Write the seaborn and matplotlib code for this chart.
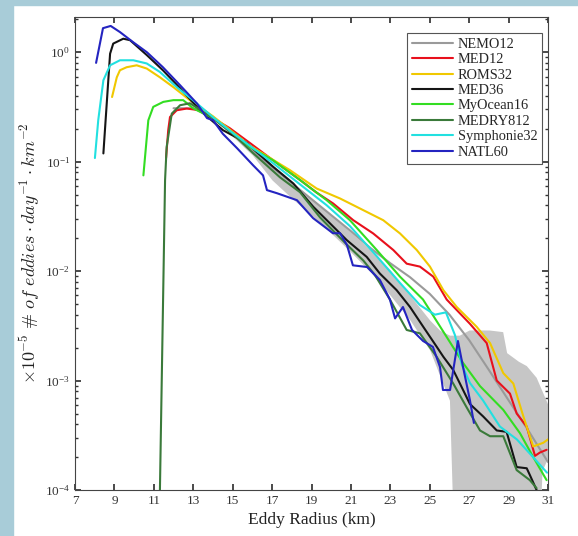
import matplotlib
matplotlib.use("Agg")
import matplotlib.pyplot as plt
from matplotlib.patches import Rectangle
import seaborn as sns

# values (eddy radius in km, density per km^2 per day, x 1e-5)
natl60_x = [8.07, 8.42, 8.81, 9.28, 9.94, 10.65, 11.46, 12.33, 13.19, 13.70, 14.0, 14.5, 15.22,
            16.03, 16.54, 16.74, 17.25, 18.26, 19.08, 20.09, 20.45, 20.80, 21.10, 21.82, 22.47,
            22.98, 23.24, 23.64, 24.10, 24.66, 25.16, 25.52, 25.67, 26.03, 26.43, 26.69, 27.04, 27.24]
natl60_y = [0.80, 1.66, 1.74, 1.53, 1.24, 1.0, 0.73, 0.50, 0.34, 0.25, 0.24, 0.18, 0.133,
            0.093, 0.075, 0.055, 0.0515, 0.0445, 0.0305, 0.0222, 0.0222, 0.0173, 0.0113, 0.0109, 0.0083,
            0.0055, 0.0037, 0.0047, 0.0029, 0.0023, 0.00203, 0.00133, 0.00082, 0.00082, 0.0023, 0.00133,
            0.00066, 0.00041]

med36_x = [8.44, 8.78, 8.94, 9.45, 9.79, 10.65, 11.46, 12.33, 13.34, 14.51, 15.71, 17.06, 18.08,
           19.09, 19.94, 20.79, 21.80, 22.47, 23.32, 24.0, 24.67, 25.35, 25.69, 26.19, 26.53, 27.04,
           27.71, 28.40, 28.90, 29.41, 29.92, 30.08, 30.42]
med36_y = [0.119, 0.97, 1.20, 1.33, 1.29, 0.94, 0.685, 0.47, 0.295, 0.194, 0.148, 0.0897, 0.0632,
           0.0387, 0.0273, 0.0192, 0.0135, 0.0095, 0.0067, 0.0047, 0.0031, 0.00204, 0.00165, 0.00125,
           0.00094, 0.00061, 0.00047, 0.00035, 0.00034, 0.000162, 0.000158, 0.000137, 0.0001]

myocean_x = [10.47, 10.72, 10.97, 11.48, 11.99, 12.49, 12.99, 14.0, 15.02, 15.88, 17.05, 18.42,
             19.77, 20.95, 22.31, 23.49, 24.66, 25.86, 26.70, 27.55, 28.73, 29.58, 30.25, 30.93]
myocean_y = [0.075, 0.239, 0.317, 0.352, 0.365, 0.365, 0.308, 0.25, 0.182, 0.136, 0.103, 0.068,
             0.0445, 0.0292, 0.0156, 0.0089, 0.0055, 0.0025, 0.00144, 0.00089, 0.00054, 0.00033,
             0.0002, 0.000123]

symph_x = [8.01, 8.18, 8.44, 8.78, 9.28, 9.96, 10.64, 11.31, 12.16, 12.99, 14.0, 15.02, 17.05,
           18.42, 19.77, 20.95, 22.31, 23.49, 24.5, 25.26, 25.82, 26.28, 26.63, 27.04, 27.70, 28.56,
           29.42, 30.24, 30.95]
symph_y = [0.108, 0.24, 0.555, 0.76, 0.845, 0.845, 0.79, 0.66, 0.48, 0.365, 0.255, 0.182, 0.097,
           0.062, 0.040, 0.0258, 0.0137, 0.0078, 0.0049, 0.0040, 0.0042, 0.0026, 0.00139, 0.00095,
           0.00066, 0.00038, 0.00029, 0.0002, 0.000144]

roms_x = [8.88, 9.12, 9.28, 9.62, 10.13, 10.64, 11.31, 11.99, 12.83, 14.0, 15.88, 17.91, 19.26,
          20.45, 21.29, 22.64, 23.49, 24.34, 25.01, 25.69, 26.37, 27.38, 28.06, 28.73, 29.24, 29.75,
          30.25, 30.76, 31.0]
roms_y = [0.39, 0.59, 0.685, 0.73, 0.76, 0.71, 0.59, 0.48, 0.365, 0.26, 0.14, 0.0836, 0.0569,
          0.0461, 0.0387, 0.0292, 0.0221, 0.0156, 0.011, 0.0067, 0.0047, 0.0031, 0.0022, 0.00117,
          0.00094, 0.00047, 0.00025, 0.00027, 0.00029]

med12_x = [11.62, 11.73, 11.82, 12.16, 12.67, 13.34, 14.86, 15.88, 17.05, 18.42, 19.23, 20.10,
           21.12, 22.13, 23.15, 23.83, 24.50, 25.18, 25.86, 27.04, 27.89, 28.40, 29.07, 29.41, 29.92,
           30.34, 30.59, 30.93]
med12_y = [0.108, 0.194, 0.256, 0.295, 0.306, 0.295, 0.202, 0.148, 0.103, 0.068, 0.0526, 0.0415,
           0.0292, 0.0221, 0.0156, 0.0117, 0.011, 0.0089, 0.0055, 0.0033, 0.0022, 0.001, 0.00076,
           0.0005, 0.00038, 0.000205, 0.00022, 0.000233]

medry_x = [11.30, 11.57, 11.65, 11.91, 12.33, 12.83, 14.0, 15.0, 16.03, 17.40, 18.42, 19.43, 20.79,
           21.63, 22.22, 22.98, 23.83, 24.50, 25.35, 26.19, 26.87, 27.55, 28.06, 28.73, 29.41, 30.08,
           30.42]
medry_y = [8e-5, 0.068, 0.136, 0.275, 0.328, 0.342, 0.25, 0.18, 0.12, 0.072, 0.0526, 0.031, 0.0175,
           0.0125, 0.0092, 0.0055, 0.0029, 0.0027, 0.00165, 0.00094, 0.00057, 0.00035, 0.00031,
           0.00031, 0.000152, 0.000123, 0.000104]

nemo_x = [12, 13, 14, 15, 16, 17, 18, 19, 20, 21, 22, 23, 24, 25, 26, 27, 28, 29, 30, 31]
nemo_y = [0.308, 0.308, 0.25, 0.178, 0.127, 0.089, 0.0637, 0.0455, 0.0325, 0.0232, 0.0162, 0.0118,
          0.0088, 0.0062, 0.0040, 0.00234, 0.00125, 0.00066, 0.00035, 0.00018]

# NEMO12 spread (shaded)
band_x = [15, 16, 17, 18, 19, 20, 21, 22, 23, 24, 25, 25.5, 26, 26.3, 26.5, 27, 27.5, 28, 28.7,
          28.9, 29.5, 29.9, 30.4, 30.7, 31]
band_hi = [0.19, 0.13, 0.093, 0.065, 0.0464, 0.0325, 0.0227, 0.0156, 0.0102, 0.0060, 0.00357,
           0.00289, 0.0026, 0.0026, 0.0026, 0.0029, 0.0029, 0.0029, 0.0028, 0.0018, 0.0015, 0.00137,
           0.00107, 0.0008, 0.0006]
band_lo = [0.17, 0.115, 0.068, 0.0464, 0.0325, 0.0222, 0.0149, 0.0098, 0.0060, 0.00357, 0.0019,
           0.00112, 0.00066, 1e-5, 1e-5, 1e-5, 1e-5, 1e-5, 1e-5, 1e-5, 1e-5, 1e-5, 1e-5, 1.5e-4, 2e-4]

models = [
    ("NEMO12", nemo_x, nemo_y, "#9a9a9a"),
    ("MED12", med12_x, med12_y, "#e8101c"),
    ("ROMS32", roms_x, roms_y, "#f0c800"),
    ("MED36", med36_x, med36_y, "#151515"),
    ("MyOcean16", myocean_x, myocean_y, "#33dd22"),
    ("MEDRY812", medry_x, medry_y, "#3a7a3a"),
    ("Symphonie32", symph_x, symph_y, "#22e0e0"),
    ("NATL60", natl60_x, natl60_y, "#2424c0"),
]

sns.set_theme(style="ticks")
plt.rcParams["font.family"] = ["Liberation Serif", "DejaVu Serif"]
plt.rcParams["mathtext.fontset"] = "cm"

fig = plt.figure(figsize=(5.78, 5.36), dpi=100)
fig.patch.set_facecolor("white")
fig.patches.append(Rectangle((0, 0), 13 / 578, 1, transform=fig.transFigure,
                             color="#a8ccd8", zorder=0))
fig.patches.append(Rectangle((0, 1 - 5 / 536), 1, 5 / 536, transform=fig.transFigure,
                             color="#a8ccd8", zorder=0))

ax = fig.add_axes([75 / 578, 1 - 490 / 536, 473 / 578, 473 / 536])

ax.fill_between(band_x, band_lo, band_hi, color="#c6c6c6", linewidth=0, zorder=1)

for name, xs, ys, col in models:
    sns.lineplot(x=xs, y=ys, ax=ax, color=col, linewidth=1.5, label=name,
                 sort=False, estimator=None, zorder=3)

ax.set_yscale("log")
ax.set_xlim(7, 31)
ax.set_ylim(1e-4, 2.1)
ax.set_xticks(range(7, 32, 2))
ax.set_yticks([1e-4, 1e-3, 1e-2, 1e-1, 1e0])
ax.tick_params(axis="both", which="both", direction="in", top=True, right=True,
               labelsize=9.5, colors="#333333")
ax.tick_params(axis="both", which="major", length=4)
ax.tick_params(axis="y", which="minor", length=2)
for sp in ax.spines.values():
    sp.set_color("#444444")
    sp.set_linewidth(0.8)

ax.set_xlabel("Eddy Radius (km)", fontsize=12.5, color="#222222", labelpad=4)
ax.set_ylabel(r"$\times 10^{-5}\ \#\ of\ eddies\cdot day^{-1}\cdot km^{-2}$",
              fontsize=13, color="#222222", labelpad=2)

leg = ax.legend(loc="upper right", bbox_to_anchor=(0.988, 0.967), borderaxespad=0,
                fontsize=10.4, handlelength=2.8, handletextpad=0.35, labelspacing=0.16,
                borderpad=0.35, frameon=True, fancybox=False, edgecolor="#555555", framealpha=1)
leg.get_frame().set_linewidth(0.8)

fig.savefig("out.png", dpi=100)
